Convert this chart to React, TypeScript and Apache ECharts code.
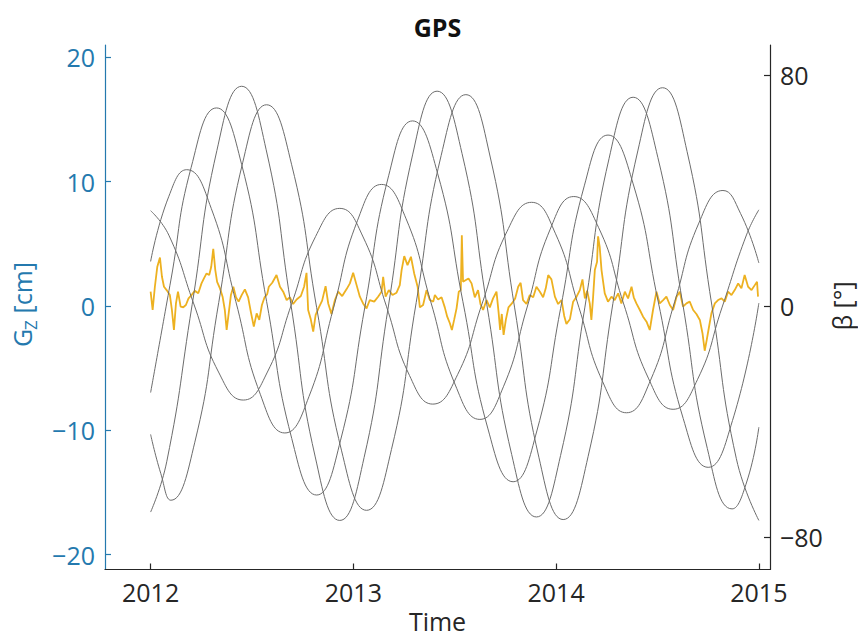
import React, { useEffect, useRef } from "react";
import * as echarts from "echarts";

const xTicks = [2012, 2013, 2014, 2015];
const leftTicks = [-20, -10, 0, 10, 20];
const rightTicks = [-80, 0, 80];

// G_Z series (cm)
const gzTime = [
  2012.000, 2012.010, 2012.021, 2012.033, 2012.046, 2012.056, 2012.066, 2012.079, 2012.095, 2012.105,
  2012.115, 2012.125, 2012.135, 2012.148, 2012.161, 2012.174, 2012.187, 2012.202, 2012.218, 2012.235,
  2012.251, 2012.263, 2012.276, 2012.289, 2012.299, 2012.309, 2012.319, 2012.328, 2012.342, 2012.355,
  2012.366, 2012.375, 2012.385, 2012.396, 2012.408, 2012.421, 2012.434, 2012.449, 2012.465, 2012.481,
  2012.495, 2012.509, 2012.523, 2012.536, 2012.549, 2012.562, 2012.575, 2012.583, 2012.600, 2012.621,
  2012.638, 2012.654, 2012.671, 2012.687, 2012.703, 2012.720, 2012.741, 2012.757, 2012.769, 2012.777,
  2012.790, 2012.802, 2012.814, 2012.830, 2012.846, 2012.863, 2012.876, 2012.892, 2012.909, 2012.925,
  2012.945, 2012.966, 2012.983, 2012.999, 2013.016, 2013.032, 2013.048, 2013.065, 2013.081, 2013.103,
  2013.122, 2013.139, 2013.147, 2013.159, 2013.175, 2013.193, 2013.213, 2013.229, 2013.238, 2013.251,
  2013.267, 2013.284, 2013.300, 2013.317, 2013.328, 2013.344, 2013.361, 2013.377, 2013.394, 2013.402,
  2013.418, 2013.435, 2013.451, 2013.463, 2013.476, 2013.486, 2013.497, 2013.509, 2013.520, 2013.530,
  2013.535, 2013.541, 2013.555, 2013.568, 2013.583, 2013.599, 2013.615, 2013.627, 2013.640, 2013.657,
  2013.673, 2013.689, 2013.706, 2013.716, 2013.724, 2013.732, 2013.741, 2013.752, 2013.765, 2013.782,
  2013.798, 2013.813, 2013.825, 2013.837, 2013.854, 2013.870, 2013.887, 2013.903, 2013.920, 2013.936,
  2013.949, 2013.961, 2013.977, 2013.994, 2014.010, 2014.027, 2014.040, 2014.051, 2014.068, 2014.084,
  2014.101, 2014.117, 2014.130, 2014.142, 2014.153, 2014.166, 2014.174, 2014.182, 2014.191, 2014.202,
  2014.207, 2014.215, 2014.224, 2014.232, 2014.240, 2014.256, 2014.273, 2014.289, 2014.306, 2014.322,
  2014.339, 2014.355, 2014.372, 2014.383, 2014.396, 2014.413, 2014.429, 2014.446, 2014.462, 2014.478,
  2014.495, 2014.511, 2014.528, 2014.544, 2014.561, 2014.577, 2014.594, 2014.610, 2014.626, 2014.643,
  2014.659, 2014.676, 2014.692, 2014.709, 2014.722, 2014.733, 2014.743, 2014.753, 2014.766, 2014.783,
  2014.799, 2014.816, 2014.832, 2014.848, 2014.865, 2014.881, 2014.898, 2014.914, 2014.930, 2014.947,
  2014.964, 2014.980, 2014.991, 2014.996,
];
const gzCm = [
  1.15, -0.32, 1.55, 3.16, 3.9, 2.35, 1.55, 1.28, 0.88, -0.32,
  -1.93, 0.21, 1.15, -0.05, -0.1, 0.08, 0.61, 0.88, 1.23, 1.02,
  1.82, 2.22, 2.62, 2.49, 3.16, 4.6, 2.89, 1.95, 1.42, 0.75,
  -0.32, -1.93, -0.59, 0.88, 1.55, 0.7, 0.35, 0.88, 1.34, 0.7,
  -0.53, -1.66, -0.59, -1.12, 0.08, 0.7, 0.96, 1.55, 1.87, 2.49,
  1.55, 1.15, 0.48, 0.7, 0.16, 0.53, 0.8, 1.55, 2.67, -0.32,
  -1.07, -2.06, -0.72, -0.11, 0.43, 1.6, 0.21, -0.64, 0.48, 1.15,
  0.8, 1.34, 1.82, 2.67, 1.68, 0.75, 0.21, -0.19, 0.48, 0.35,
  0.75, 1.15, 2.35, 0.75, 1.28, 0.88, 1.07, 1.68, 2.89, 4.01,
  3.29, 3.96, 2.62, 1.55, -0.11, 0.08, 1.28, 0.48, 0.35, 0.88,
  0.53, 0.7, -0.11, -0.86, -1.39, -1.93, -1.12, -0.19, 1.15, 1.28,
  5.7, 1.95, 2.09, 2.22, 1.82, 0.7, 1.28, 0.16, -0.32, 0.48,
  -0.11, 0.61, 1.15, -0.45, -1.93, -0.64, -2.33, -1.12, -0.11, 0.21,
  0.61, 1.55, 1.87, 0.48, 0.16, 0.88, 0.7, 1.55, 1.15, 0.7,
  1.42, 2.49, 2.14, 0.75, 0.16, 0.48, -0.8, -1.44, -1.07, 0.35,
  0.75, 1.28, 2.14, 0.61, 1.23, 0.21, -1.12, 0.61, 2.89, 3.56,
  5.6, 4.76, 2.89, 1.95, 1.02, 0.35, 0.75, 0.48, 1.02, 0.21,
  1.15, 0.61, 1.55, 0.7, 0.21, -0.32, -0.86, -1.26, -1.93, -0.32,
  1.15, 0.21, 0.48, 0.75, 0.08, -0.32, 0.75, 1.15, -0.05, 0.21,
  0.35, -0.32, -0.64, -1.12, -2.19, -3.6, -2.73, -1.79, -0.59, 0.21,
  0.48, 0.61, 0.35, 1.15, 0.88, 1.28, 1.82, 1.42, 2.49, 1.55,
  1.28, 1.68, 1.95, 0.75,
];

// beta angle curves (deg), [year, beta]
const betaA = [
  [2012.0, 15.4], [2012.09, 38], [2012.178, 47.2], [2012.299, 33.8], [2012.42, 1.6], [2012.541, -30.6],
  [2012.662, -44.0], [2012.781, -31.4], [2012.901, -1.0], [2013.02, 29.5], [2013.139, 42.1], [2013.26, 30.2],
  [2013.382, 1.4], [2013.503, -27.4], [2013.624, -39.3], [2013.74, -28.0], [2013.856, -0.7], [2013.971, 26.6],
  [2014.087, 37.9], [2014.21, 27.1], [2014.332, 1.0], [2014.455, -25.0], [2014.577, -35.8], [2014.698, -25.4],
  [2014.819, -0.4], [2014.939, 24.6], [2015.0, 33.3],
];
const betaB = [
  [2012.0, -30.0], [2012.1, 9], [2012.2, 48], [2012.325, 68.6], [2012.449, 49.0], [2012.572, 1.6],
  [2012.696, -45.9], [2012.819, -65.5], [2012.937, -46.5], [2013.056, -0.7], [2013.174, 45.1], [2013.292, 64.1],
  [2013.416, 45.8], [2013.54, 1.6], [2013.664, -42.6], [2013.788, -60.9], [2013.905, -43.3], [2014.022, -0.9],
  [2014.139, 41.6], [2014.256, 59.2], [2014.38, 42.3], [2014.503, 1.7], [2014.627, -39.0], [2014.75, -55.9],
  [2014.87, -39.7], [2015.0, 1.0],
];
const betaC = [
  [2012.0, -71.4], [2012.08, -53.8], [2012.205, 0.5], [2012.327, 53.9], [2012.449, 76.1], [2012.57, 54.1],
  [2012.691, 0.9], [2012.812, -52.3], [2012.933, -74.3], [2013.053, -52.5], [2013.173, 0], [2013.293, 52.6],
  [2013.413, 74.4], [2013.536, 52.8], [2013.658, 0.6], [2013.781, -51.5], [2013.903, -73.1], [2014.022, -51.8],
  [2014.142, -0.4], [2014.261, 51.0], [2014.38, 72.3], [2014.502, 51.4], [2014.624, 1.0], [2014.746, -49.4],
  [2014.868, -70.3], [2014.94, -61], [2015.0, -42],
];
const betaD = [
  [2012.0, -44.5], [2012.05, -58], [2012.1, -67.3], [2012.218, -47.2], [2012.336, 1.2], [2012.454, 49.6],
  [2012.572, 69.7], [2012.695, 49.1], [2012.819, -0.6], [2012.942, -50.2], [2013.065, -70.8], [2013.188, -49.7],
  [2013.31, 1.2], [2013.433, 52.1], [2013.555, 73.2], [2013.675, 51.6], [2013.795, -0.4], [2013.915, -52.4],
  [2014.035, -74.0], [2014.158, -52.1], [2014.28, 0.8], [2014.403, 53.7], [2014.525, 75.6], [2014.646, 53.5],
  [2014.768, 0.3], [2014.889, -52.9], [2015.0, -74.3],
];
const betaE = [
  [2012.0, 33], [2012.09, 24.5], [2012.213, 0.7], [2012.335, -22.9], [2012.457, -32.6], [2012.576, -22.9],
  [2012.695, 0.6], [2012.814, 24.1], [2012.933, 33.8], [2013.048, 23.9], [2013.163, -0.1], [2013.277, -24.1],
  [2013.392, -34.0], [2013.514, -23.8], [2013.636, 1.0], [2013.757, 25.7], [2013.879, 35.9], [2013.996, 25.2],
  [2014.113, -0.6], [2014.23, -26.3], [2014.347, -37.0], [2014.466, -25.7], [2014.585, 1.5], [2014.704, 28.7],
  [2014.823, 40.0], [2014.91, 32], [2015.0, 14.9],
];
const betaCurves = [betaA, betaB, betaC, betaD, betaE];

const FONT = "'Open Sans', 'DejaVu Sans', sans-serif";
const BLUE = "#2479ae";
const DARK = "#262626";
const GOLD = "#EDB120";
const GRAY = "#6c6c6c";

const minus = (v: number) => String(v).replace("-", "\u2212");

export default function App() {
  const ref = useRef<HTMLDivElement>(null);
  useEffect(() => {
    if (!ref.current) return;
    const chart = echarts.init(ref.current, null, { renderer: "svg" });
    const axisLine = (color: string) => ({ show: true, onZero: false, lineStyle: { color, width: 1.2 } });
    const tick = (color: string, values: number[]) => ({
      show: true,
      inside: true,
      length: 6,
      customValues: values,
      lineStyle: { color, width: 1.2 },
    });
    const label = (color: string, values: number[], fmt: (v: number) => string) => ({
      customValues: values,
      formatter: fmt,
      fontSize: 25,
      fontFamily: FONT,
      color,
      margin: 10,
    });
    chart.setOption({
      animation: false,
      backgroundColor: "#ffffff",
      grid: { left: 105, right: 88, top: 45, bottom: 68.5, containLabel: false },
      xAxis: {
        type: "value",
        min: 2011.775,
        max: 2015.055,
        axisLine: axisLine(DARK),
        axisTick: tick(DARK, xTicks),
        axisLabel: label(DARK, xTicks, (v: number) => String(v)),
        splitLine: { show: false },
      },
      yAxis: [
        {
          type: "value",
          position: "left",
          min: -21.2,
          max: 21.0,
          axisLine: axisLine(BLUE),
          axisTick: tick(BLUE, leftTicks),
          axisLabel: label(BLUE, leftTicks, minus),
          splitLine: { show: false },
        },
        {
          type: "value",
          position: "right",
          min: -91.3,
          max: 90.4,
          axisLine: axisLine(DARK),
          axisTick: tick(DARK, rightTicks),
          axisLabel: label(DARK, rightTicks, minus),
          splitLine: { show: false },
        },
      ],
      series: [
        {
          type: "line",
          yAxisIndex: 0,
          data: gzTime.map((t, i) => [t, gzCm[i]]),
          showSymbol: false,
          lineStyle: { color: GOLD, width: 1.8 },
          z: 2,
        },
        ...betaCurves.map((c) => ({
          type: "line",
          yAxisIndex: 1,
          data: c,
          smooth: 0.5,
          showSymbol: false,
          lineStyle: { color: GRAY, width: 1 },
          z: 3,
        })),
      ],
      graphic: [
        {
          type: "text",
          x: 437.5,
          y: 27,
          style: { text: "GPS", fontSize: 25, fontWeight: "bold", fontFamily: FONT, fill: "#111", align: "center", verticalAlign: "middle" },
        },
        {
          type: "text",
          x: 437.5,
          y: 621,
          style: { text: "Time", fontSize: 25, fontFamily: FONT, fill: DARK, align: "center", verticalAlign: "middle" },
        },
        {
          type: "group",
          x: 22,
          y: 306,
          rotation: Math.PI / 2,
          children: [
            { type: "text", x: -41, y: 0, style: { text: "G", fontSize: 25, fontFamily: FONT, fill: BLUE, align: "left", verticalAlign: "middle" } },
            { type: "text", x: -24, y: 8, style: { text: "Z", fontSize: 17, fontFamily: FONT, fill: BLUE, align: "left", verticalAlign: "middle" } },
            { type: "text", x: -14, y: 0, style: { text: " [cm]", fontSize: 25, fontFamily: FONT, fill: BLUE, align: "left", verticalAlign: "middle" } },
          ],
        },
        {
          type: "group",
          x: 842,
          y: 306,
          rotation: Math.PI / 2,
          children: [
            { type: "text", x: 0, y: 0, style: { text: "\u03B2 [\u00B0]", fontSize: 25, fontFamily: FONT, fill: DARK, align: "center", verticalAlign: "middle" } },
          ],
        },
      ],
    });
    return () => chart.dispose();
  }, []);
  return <div ref={ref} style={{ position: "fixed", left: 0, top: 0, width: 858, height: 638 }} />;
}
